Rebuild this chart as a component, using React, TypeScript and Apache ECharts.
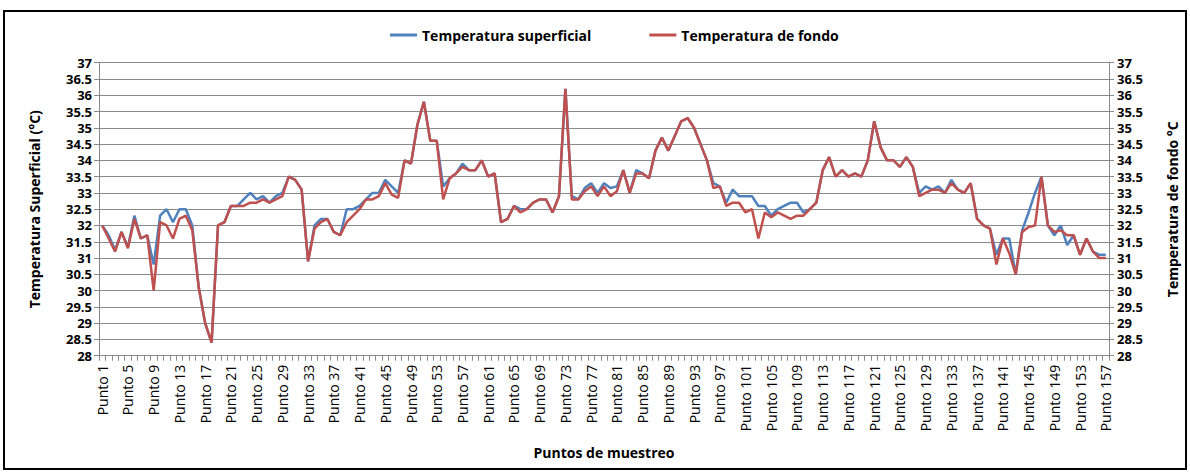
import React, { useEffect, useRef } from "react";
import * as echarts from "echarts";

const pointCount = 157;
const categories: string[] = Array.from({ length: pointCount }, (_, i) => `Punto ${i + 1}`);

const superficial: number[] = [
  32.0, 31.7, 31.25, 31.8, 31.35, 32.3, 31.6, 31.7, 30.8, 32.3,
  32.5, 32.1, 32.5, 32.5, 32.0, 30.1, 29.0, 28.4, 32.0, 32.1,
  32.6, 32.6, 32.8, 33.0, 32.8, 32.9, 32.7, 32.9, 33.0, 33.5,
  33.4, 33.1, 30.9, 32.0, 32.2, 32.2, 31.8, 31.7, 32.5, 32.5,
  32.6, 32.8, 33.0, 33.0, 33.4, 33.2, 33.0, 34.0, 33.9, 35.1,
  35.8, 34.6, 34.6, 33.2, 33.45, 33.6, 33.9, 33.7, 33.7, 34.0,
  33.5, 33.6, 32.1, 32.2, 32.6, 32.5, 32.5, 32.7, 32.8, 32.8,
  32.4, 32.9, 36.2, 32.9, 32.8, 33.15, 33.3, 33.0, 33.3, 33.15,
  33.2, 33.7, 33.0, 33.7, 33.6, 33.45, 34.3, 34.7, 34.3, 34.75,
  35.2, 35.3, 35.0, 34.5, 34.0, 33.3, 33.2, 32.7, 33.1, 32.9,
  32.9, 32.9, 32.6, 32.6, 32.3, 32.5, 32.6, 32.7, 32.7, 32.4,
  32.5, 32.7, 33.7, 34.1, 33.5, 33.7, 33.5, 33.6, 33.5, 34.0,
  35.2, 34.4, 34.0, 34.0, 33.8, 34.1, 33.8, 33.0, 33.2, 33.1,
  33.2, 33.0, 33.4, 33.1, 33.0, 33.3, 32.2, 32.0, 31.9, 31.1,
  31.6, 31.6, 30.5, 31.85, 32.4, 33.0, 33.5, 32.0, 31.7, 32.0,
  31.4, 31.7, 31.1, 31.6, 31.2, 31.1, 31.1,
];

const fondo: number[] = [
  32.0, 31.6, 31.2, 31.8, 31.3, 32.2, 31.6, 31.7, 30.0, 32.1,
  32.0, 31.6, 32.2, 32.3, 31.85, 30.1, 29.0, 28.4, 32.0, 32.1,
  32.6, 32.6, 32.6, 32.7, 32.7, 32.8, 32.7, 32.8, 32.9, 33.5,
  33.4, 33.1, 30.9, 31.9, 32.1, 32.2, 31.8, 31.7, 32.1, 32.3,
  32.5, 32.8, 32.8, 32.9, 33.3, 32.95, 32.85, 34.0, 33.9, 35.1,
  35.8, 34.6, 34.6, 32.8, 33.45, 33.6, 33.8, 33.7, 33.7, 34.0,
  33.5, 33.6, 32.1, 32.2, 32.6, 32.4, 32.5, 32.7, 32.8, 32.8,
  32.4, 32.9, 36.2, 32.8, 32.8, 33.05, 33.2, 32.9, 33.2, 32.9,
  33.05, 33.7, 33.0, 33.6, 33.6, 33.45, 34.3, 34.7, 34.3, 34.75,
  35.2, 35.3, 35.0, 34.5, 34.0, 33.15, 33.2, 32.6, 32.7, 32.7,
  32.4, 32.5, 31.6, 32.4, 32.25, 32.4, 32.3, 32.2, 32.3, 32.3,
  32.5, 32.7, 33.7, 34.1, 33.5, 33.7, 33.5, 33.6, 33.5, 34.0,
  35.2, 34.4, 34.0, 34.0, 33.8, 34.1, 33.8, 32.9, 33.0, 33.1,
  33.1, 33.0, 33.3, 33.1, 33.0, 33.3, 32.2, 32.0, 31.9, 30.8,
  31.6, 31.15, 30.5, 31.8, 31.95, 32.0, 33.5, 32.0, 31.8, 31.85,
  31.7, 31.7, 31.1, 31.6, 31.2, 31.0, 31.0,
];

const seriesNames = ["Temperatura superficial", "Temperatura de fondo"];
const leftAxisName = "Temperatura Superficial (°C)";
const rightAxisName = "Temperatura de fondo °C";
const xAxisName = "Puntos de muestreo";

const FONT = "'Open Sans', 'DejaVu Sans', sans-serif";
const GRID_COLOR = "#8a8a8a";

export default function App() {
  const ref = useRef<HTMLDivElement>(null);

  useEffect(() => {
    if (!ref.current) return;
    const chart = echarts.init(ref.current, undefined, { renderer: "svg" });

    const yAxisBase = {
      type: "value" as const,
      min: 28,
      max: 37,
      interval: 0.5,
      nameLocation: "middle" as const,
      nameRotate: 90,
      nameTextStyle: { fontFamily: FONT, fontSize: 14, fontWeight: "bold" as const, color: "#000" },
      axisLine: { show: true, lineStyle: { color: GRID_COLOR, width: 1 } },
      axisTick: { show: true, inside: false, length: 5, lineStyle: { color: GRID_COLOR } },
      axisLabel: { fontFamily: FONT, fontSize: 13, fontWeight: "bold" as const, color: "#000" },
    };

    chart.setOption({
      animation: false,
      backgroundColor: "#fff",
      textStyle: { fontFamily: FONT },
      graphic: [
        {
          type: "rect",
          shape: { x: 4, y: 11, width: 1182, height: 458 },
          style: { fill: "none", stroke: "#000", lineWidth: 2 },
          silent: true,
          z: 100,
        },
      ],
      legend: {
        data: seriesNames,
        left: 385,
        top: 23,
        icon: "rect",
        itemWidth: 27,
        itemHeight: 3,
        itemGap: 58,
        textStyle: { fontFamily: FONT, fontSize: 14, fontWeight: "bold", color: "#000" },
      },
      grid: { left: 99, right: 81, top: 62.7, bottom: 117.3, containLabel: false },
      xAxis: {
        type: "category",
        data: categories,
        boundaryGap: true,
        name: xAxisName,
        nameLocation: "middle",
        nameGap: 90,
        nameTextStyle: { fontFamily: FONT, fontSize: 14, fontWeight: "bold", color: "#000" },
        axisLine: { show: true, lineStyle: { color: GRID_COLOR, width: 1 } },
        axisTick: { show: true, interval: 0, length: 5, alignWithLabel: false, lineStyle: { color: GRID_COLOR } },
        axisLabel: {
          interval: 3,
          rotate: 90,
          margin: 9,
          fontFamily: FONT,
          fontSize: 14,
          color: "#000",
        },
        splitLine: { show: false },
      },
      yAxis: [
        {
          ...yAxisBase,
          position: "left",
          name: leftAxisName,
          nameGap: 58,
          axisLabel: { ...yAxisBase.axisLabel, margin: 7 },
          splitLine: { show: true, lineStyle: { color: GRID_COLOR, width: 1 } },
        },
        {
          ...yAxisBase,
          position: "right",
          name: rightAxisName,
          nameGap: 56,
          axisLabel: { ...yAxisBase.axisLabel, margin: 8 },
          splitLine: { show: false },
        },
      ],
      series: [
        {
          name: seriesNames[0],
          type: "line",
          yAxisIndex: 0,
          data: superficial,
          symbol: "none",
          color: "#4F81BD",
          lineStyle: { width: 2.5, color: "#4F81BD" },
          z: 2,
        },
        {
          name: seriesNames[1],
          type: "line",
          yAxisIndex: 1,
          data: fondo,
          symbol: "none",
          color: "#C0504D",
          lineStyle: { width: 2.5, color: "#C0504D" },
          z: 3,
        },
      ],
    });

    return () => {
      chart.dispose();
    };
  }, []);

  return (
    <div
      ref={ref}
      style={{ position: "absolute", left: 0, top: 0, width: 1190, height: 473 }}
    />
  );
}
